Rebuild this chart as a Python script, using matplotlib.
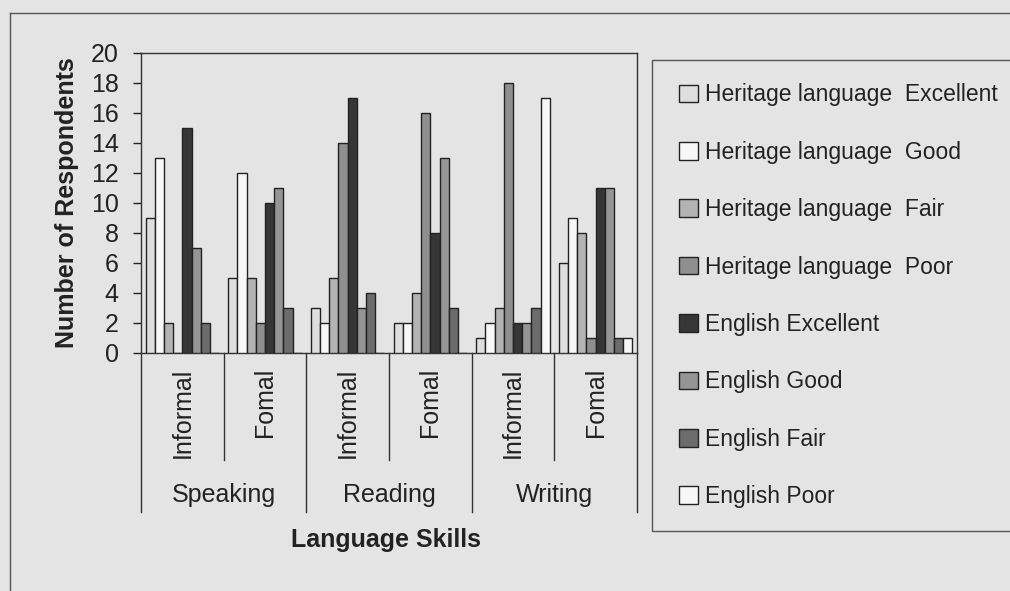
import matplotlib.pyplot as plt
from matplotlib.patches import Patch, Rectangle
from matplotlib.lines import Line2D
import numpy as np

plt.rcParams['font.family'] = ['Liberation Sans', 'DejaVu Sans']

# ───── Data ─────
skills = ['Speaking', 'Reading', 'Writing']
registers = ['Informal', 'Fomal']
series = ['Heritage language  Excellent', 'Heritage language  Good',
          'Heritage language  Fair', 'Heritage language  Poor',
          'English Excellent', 'English Good', 'English Fair', 'English Poor']
# one list per series, in order Speaking Inf/Formal, Reading Inf/Formal, Writing Inf/Formal
hl_excellent = [9, 5, 3, 2, 1, 6]
hl_good      = [13, 12, 2, 2, 2, 9]
hl_fair      = [2, 5, 5, 4, 3, 8]
hl_poor      = [0, 2, 14, 16, 18, 1]
en_excellent = [15, 10, 17, 8, 2, 11]
en_good      = [7, 11, 3, 13, 2, 11]
en_fair      = [2, 3, 4, 3, 3, 1]
en_poor      = [0, 0, 0, 0, 17, 1]
values = [hl_excellent, hl_good, hl_fair, hl_poor,
          en_excellent, en_good, en_fair, en_poor]
colors = ['#dedede', '#f7f7f7', '#b3b3b3', '#8f8f8f',
          '#363636', '#959595', '#6c6c6c', '#f7f7f7']

BG = '#e4e4e4'
W, H = 1010, 591

fig = plt.figure(figsize=(W / 100, H / 100), dpi=100, facecolor=BG)
ax = fig.add_axes([141 / W, 1 - 353 / H, (637 - 141) / W, (353 - 53) / H])
ax.set_facecolor(BG)

n = len(skills) * len(registers)
x = np.arange(n)
bw = 1 / 9
for j, (vals, c) in enumerate(zip(values, colors)):
    ax.bar(x + (j - 3.5) * bw, vals, width=bw, color=c, edgecolor='#222222',
           linewidth=1.0, zorder=3)

ax.set_xlim(-0.5, n - 0.5)
ax.set_ylim(0, 20)
ax.set_yticks(range(0, 21, 2))
ax.tick_params(axis='y', direction='out', length=6, width=1, labelsize=18,
               colors='#222222', pad=10)
ax.set_xticks([])
for s in ax.spines.values():
    s.set_color('#333333')
    s.set_linewidth(1.0)

# multi-level category axis
trans = ax.get_xaxis_transform()
for i in range(n + 1):
    xx = i - 0.5
    y_end = -0.53 if i % 2 == 0 else -0.357
    ax.plot([xx, xx], [0, y_end], color='#333333', lw=1.0, transform=trans,
            clip_on=False)
for i in range(n):
    ax.text(i, -0.05, registers[i % 2], rotation=90, ha='center', va='top',
            fontsize=18, color='#222222', transform=trans)
for k, s in enumerate(skills):
    ax.text(2 * k + 0.5, -0.473, s, ha='center', va='center', fontsize=18,
            color='#222222', transform=trans)

ax.set_ylabel('Number of Respondents', fontsize=18, fontweight='bold',
              color='#222222')
ax.yaxis.set_label_coords(-0.125, 0.5)
fig.text(386 / W, 1 - 540 / H, 'Language Skills', ha='center', va='center',
         fontsize=18, fontweight='bold', color='#222222')

# outer frame of the chart (scanned page)
fig.add_artist(Line2D([10 / W, 1], [1 - 13 / H, 1 - 13 / H],
                      transform=fig.transFigure, color='#555555', lw=1.0))
fig.add_artist(Line2D([10 / W, 10 / W], [0, 1 - 13 / H],
                      transform=fig.transFigure, color='#555555', lw=1.0))

# legend
fig.add_artist(Rectangle((652 / W, 1 - 531 / H), 400 / W, (531 - 60) / H,
                         transform=fig.transFigure, fill=False,
                         edgecolor='#555555', lw=1.0))
handles = [Patch(facecolor=c, edgecolor='#222222', linewidth=1.0)
           for c in colors]
fig.legend(handles, series, loc='upper left',
           bbox_to_anchor=(668 / W, 1 - 72 / H), frameon=False,
           fontsize=16.5, handlelength=0.8, handleheight=0.8,
           handletextpad=0.3, labelspacing=1.5, borderpad=0,
           labelcolor='#222222')

fig.savefig('out.png', dpi=100, facecolor=BG)
